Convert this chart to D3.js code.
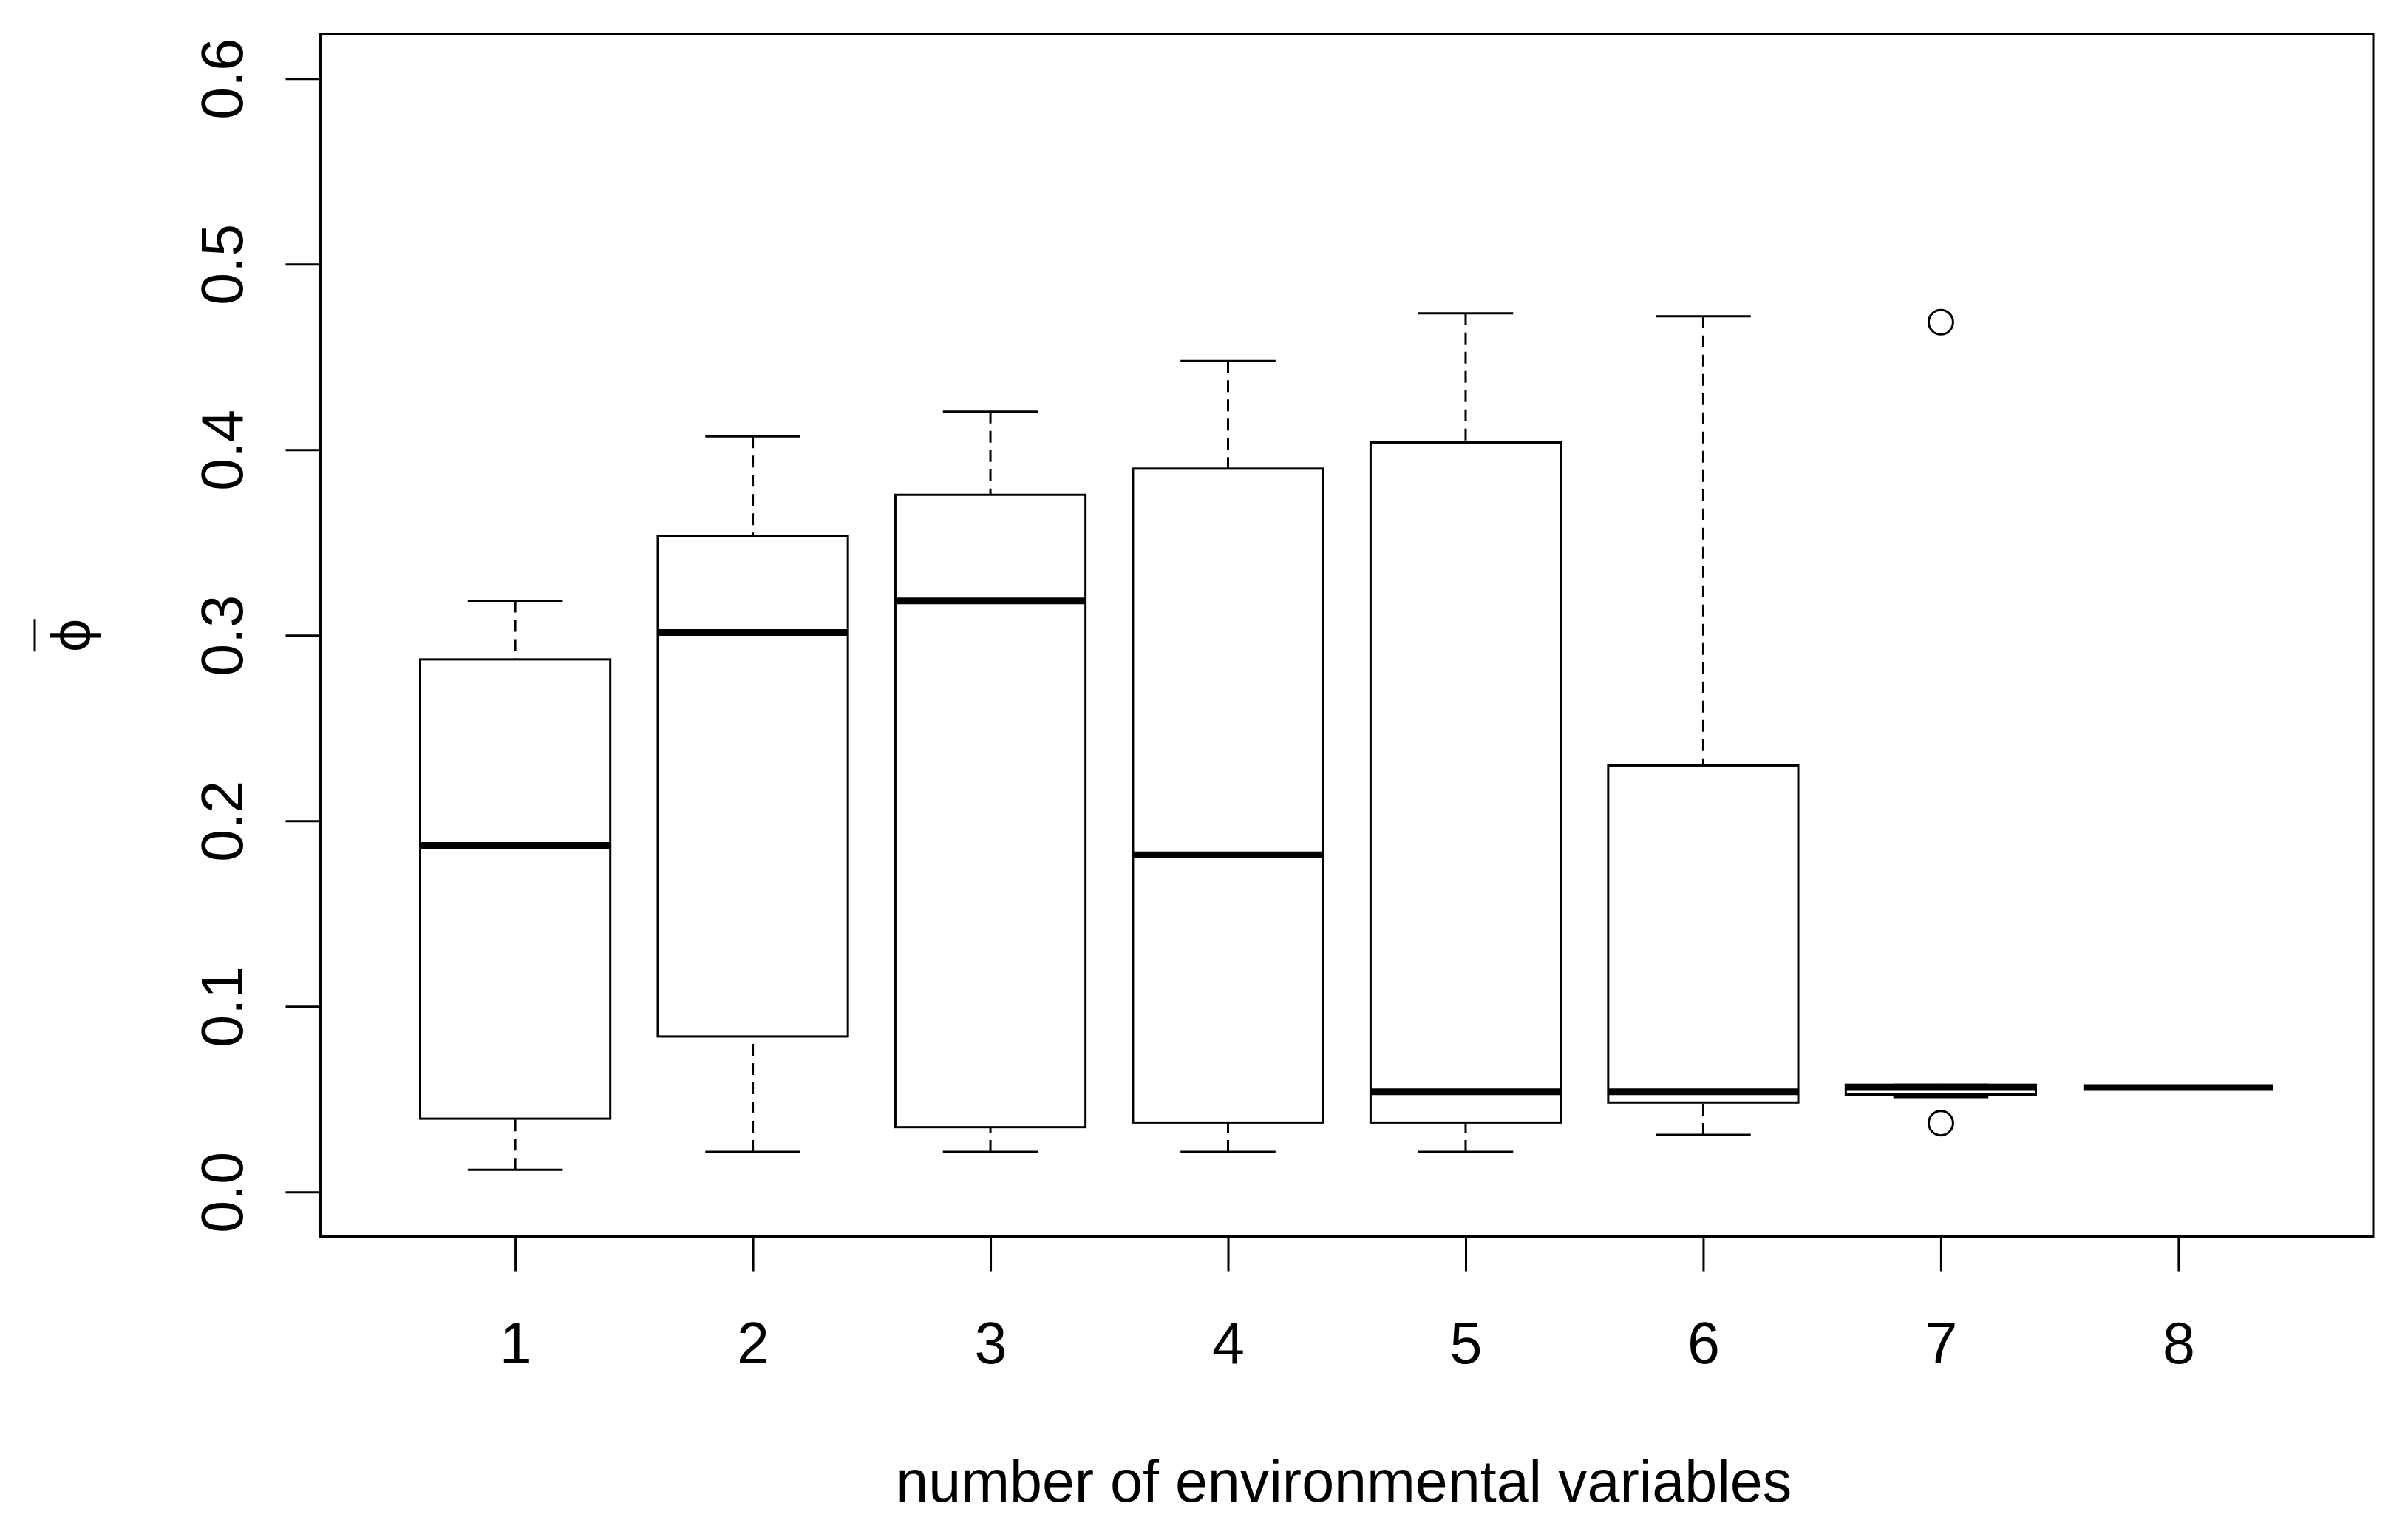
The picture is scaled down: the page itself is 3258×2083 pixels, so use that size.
<!DOCTYPE html>
<html>
<head>
<meta charset="utf-8">
<script src="https://cdn.jsdelivr.net/npm/d3@7"></script>
<style>
  html, body { margin: 0; padding: 0; background: #fff; }
  svg text { font-family: "Liberation Sans", Arial, sans-serif; fill: #000; }
</style>
</head>
<body>
<div id="chart"></div>
<script>
// boxplot stats per number of environmental variables
const groups = [1, 2, 3, 4, 5, 6, 7, 8]
const lowerWhisker = [0.012, 0.0216, 0.0216, 0.0216, 0.0216, 0.0308, 0.0511, 0.0563]
const q1 = [0.0395, 0.0838, 0.0349, 0.0374, 0.0374, 0.0482, 0.0525, 0.0563]
const median = [0.1868, 0.3015, 0.3185, 0.1817, 0.054, 0.054, 0.0563, 0.0563]
const q3 = [0.287, 0.3533, 0.3757, 0.3898, 0.4039, 0.2298, 0.0578, 0.0563]
const upperWhisker = [0.3186, 0.4072, 0.4205, 0.4478, 0.4735, 0.4719, 0.0578, 0.0563]
const outliers = [[], [], [], [], [], [], [0.4687, 0.0371], []]
const yTicks = [0, 0.1, 0.2, 0.3, 0.4, 0.5, 0.6]
const xTitle = 'number of environmental variables'

const width = 3258, height = 2083
const plotLeft = 433.5, plotRight = 3211, plotTop = 46, plotBottom = 1672.5
const fontSize = '79px'

const svg = d3.select('#chart').append('svg')
    .attr('width', width)
    .attr('height', height)

const x = d3.scaleLinear().domain([0.18, 8.82]).range([plotLeft, plotRight])
const y = d3.scaleLinear().domain([-0.024, 0.624]).range([plotBottom, plotTop])

const boxHalf = (x(1.4) - x(1)) // boxwex 0.8
const capHalf = (x(1.2) - x(1)) // staple 0.4

const data = groups.map((g, i) => ({
    g: g, lo: lowerWhisker[i], q1: q1[i], med: median[i], q3: q3[i], hi: upperWhisker[i], out: outliers[i]
}))

const boxes = svg.append('g').selectAll('g')
    .data(data)
    .enter()
    .append('g')

// whiskers, drawn from whisker end towards the hinge
boxes.append('line')
    .attr('x1', d => x(d.g)).attr('x2', d => x(d.g))
    .attr('y1', d => y(d.lo)).attr('y2', d => y(d.q1))
    .attr('stroke', '#000').attr('stroke-width', 3).attr('stroke-dasharray', '16,10')
boxes.append('line')
    .attr('x1', d => x(d.g)).attr('x2', d => x(d.g))
    .attr('y1', d => y(d.hi)).attr('y2', d => y(d.q3))
    .attr('stroke', '#000').attr('stroke-width', 3).attr('stroke-dasharray', '16,10')

// staples
boxes.selectAll('.cap')
    .data(d => [{ g: d.g, v: d.lo }, { g: d.g, v: d.hi }])
    .enter()
    .append('line')
    .attr('class', 'cap')
    .attr('x1', d => x(d.g) - capHalf).attr('x2', d => x(d.g) + capHalf)
    .attr('y1', d => y(d.v)).attr('y2', d => y(d.v))
    .attr('stroke', '#000').attr('stroke-width', 3)

// boxes
boxes.append('rect')
    .attr('x', d => x(d.g) - boxHalf)
    .attr('width', boxHalf * 2)
    .attr('y', d => y(d.q3))
    .attr('height', d => y(d.q1) - y(d.q3))
    .attr('fill', 'none').attr('stroke', '#000').attr('stroke-width', 3)

// medians
boxes.append('line')
    .attr('x1', d => x(d.g) - boxHalf).attr('x2', d => x(d.g) + boxHalf)
    .attr('y1', d => y(d.med)).attr('y2', d => y(d.med))
    .attr('stroke', '#000').attr('stroke-width', 9)

// outliers
boxes.selectAll('circle')
    .data(d => d.out.map(v => ({ g: d.g, v: v })))
    .enter()
    .append('circle')
    .attr('cx', d => x(d.g)).attr('cy', d => y(d.v))
    .attr('r', 16.5)
    .attr('fill', 'none').attr('stroke', '#000').attr('stroke-width', 3)

// axes
const xAxis = svg.append('g')
    .attr('transform', 'translate(0,' + plotBottom + ')')
    .call(d3.axisBottom(x).tickValues(groups).tickSize(47).tickSizeOuter(0).tickFormat(d3.format('d')))
xAxis.select('.domain').remove()
xAxis.selectAll('line').attr('stroke', '#000').attr('stroke-width', 3)
xAxis.selectAll('text')
    .attr('y', 171).attr('dy', null)
    .style('font-size', fontSize)
    .attr('fill', '#000')

const yAxis = svg.append('g')
    .attr('transform', 'translate(' + plotLeft + ',0)')
    .call(d3.axisLeft(y).tickValues(yTicks).tickSize(47).tickSizeOuter(0).tickFormat(d3.format('.1f')))
yAxis.select('.domain').remove()
yAxis.selectAll('line').attr('stroke', '#000').attr('stroke-width', 3)
yAxis.selectAll('text')
    .attr('x', null).attr('dy', null)
    .attr('transform', 'translate(' + (328 - plotLeft) + ',0) rotate(-90)')
    .attr('text-anchor', 'middle')
    .style('font-size', fontSize)
    .attr('fill', '#000')

// plot frame
svg.append('rect')
    .attr('x', plotLeft).attr('y', plotTop)
    .attr('width', plotRight - plotLeft).attr('height', plotBottom - plotTop)
    .attr('fill', 'none').attr('stroke', '#000').attr('stroke-width', 3)

// axis titles
svg.append('text')
    .attr('x', (plotLeft + plotRight) / 2 - 4).attr('y', 2031)
    .attr('text-anchor', 'middle')
    .style('font-size', fontSize)
    .text(xTitle)

const yTitle = svg.append('g')
    .attr('transform', 'translate(96,' + (plotTop + plotBottom) / 2 + ') rotate(-90)')
yTitle.append('text')
    .attr('x', 0).attr('y', 0)
    .attr('text-anchor', 'middle')
    .attr('dominant-baseline', 'central')
    .style('font-family', '"DejaVu Sans", sans-serif')
    .style('font-size', '72px')
    .text('ϕ')
yTitle.append('line')
    .attr('x1', -22).attr('x2', 22)
    .attr('y1', -49).attr('y2', -49)
    .attr('stroke', '#000').attr('stroke-width', 3)
</script>
</body>
</html>
